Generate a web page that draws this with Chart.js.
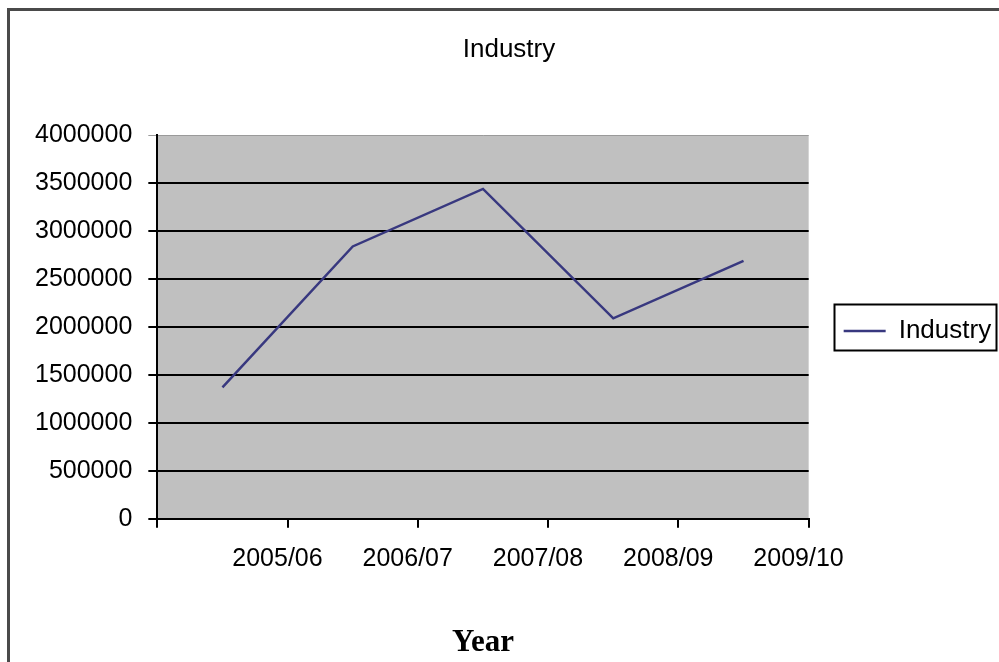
<!DOCTYPE html>
<html><head><meta charset="utf-8">
<script src="https://cdn.jsdelivr.net/npm/chart.js@4/dist/chart.umd.min.js"></script>
<style>html,body{margin:0;padding:0;background:#fff;overflow:hidden}#wrap{width:999px;height:662px;position:relative}</style>
</head><body><div id="wrap"><canvas id="c" width="999" height="662"></canvas></div>
<script>
const categories = ['2005/06', '2006/07', '2007/08', '2008/09', '2009/10'];
const industryValues = [1370000, 2840000, 3440000, 2090000, 2690000];
const yTickValues = [0, 500000, 1000000, 1500000, 2000000, 2500000, 3000000, 3500000, 4000000];
const seriesName = 'Industry';
const chartTitle = 'Industry';
const xAxisTitle = 'Year';

const SANS = "'Liberation Sans Narrow','Arial Narrow','Liberation Sans',Arial,sans-serif";
const SERIF = "'Liberation Serif','Times New Roman',serif";

const backdrop = {
  id: 'backdrop',
  beforeDraw(chart) {
    const {ctx, chartArea: a} = chart;
    ctx.save();
    ctx.fillStyle = '#ffffff';
    ctx.fillRect(0, 0, chart.width, chart.height);
    ctx.strokeStyle = '#4a4a4a';
    ctx.lineWidth = 3;
    ctx.beginPath();
    ctx.moveTo(8.5, chart.height);
    ctx.lineTo(8.5, 9.5);
    ctx.lineTo(chart.width, 9.5);
    ctx.stroke();
    ctx.fillStyle = '#c0c0c0';
    ctx.fillRect(a.left, a.top, a.right - a.left, a.bottom - a.top);
    ctx.restore();
  }
};

const legendFrame = {
  id: 'legendFrame',
  afterDraw(chart) {
    const lg = chart.legend;
    if (!lg || !lg.legendHitBoxes || !lg.legendHitBoxes.length) return;
    const hb = lg.legendHitBoxes;
    let l = Infinity, t = Infinity, r = -Infinity, b = -Infinity;
    hb.forEach(h => { l = Math.min(l, h.left); t = Math.min(t, h.top); r = Math.max(r, h.left + h.width); b = Math.max(b, h.top + h.height); });
    const ctx = chart.ctx;
    ctx.save();
    ctx.strokeStyle = '#000';
    ctx.lineWidth = 2;
    ctx.strokeRect(Math.round(l - 10) + 0.5, Math.round(t - 14) + 0.5, Math.round(r - l + 15), Math.round(b - t + 20));
    ctx.restore();
  }
};

new Chart(document.getElementById('c'), {
  type: 'line',
  data: {
    labels: categories,
    datasets: [{
      label: seriesName,
      data: industryValues,
      borderColor: '#38387f',
      backgroundColor: '#38387f',
      borderWidth: 2.5,
      pointRadius: 0,
      pointHoverRadius: 0,
      tension: 0,
      fill: false,
      yAxisID: 'y'
    }]
  },
  options: {
    responsive: false,
    animation: false,
    devicePixelRatio: 1,
    layout: { padding: { left: 19, right: 0, top: 0, bottom: 0 } },
    plugins: {
      title: {
        display: true,
        text: chartTitle,
        color: '#000',
        font: { family: SANS, size: 26, weight: 'normal' },
        padding: { top: 34, bottom: 70 }
      },
      legend: {
        position: 'right',
        labels: {
          usePointStyle: true,
          pointStyle: 'line',
          pointStyleWidth: 42,
          color: '#000',
          font: { family: SANS, size: 26 },
          padding: 8
        }
      },
      tooltip: { enabled: false }
    },
    scales: {
      x: {
        type: 'category',
        offset: true,
        grid: { offset: true, drawOnChartArea: false, drawTicks: true, tickLength: 9, color: '#000', lineWidth: 2 },
        border: { display: true, color: '#000', width: 2 },
        ticks: { color: '#000', font: { family: SANS, size: 25 }, padding: 16, maxRotation: 0, autoSkip: false, labelOffset: 55 },
        title: { display: true, text: xAxisTitle, color: '#000', font: { family: SERIF, size: 31, weight: 'bold' }, padding: { top: 35, bottom: 0 } }
      },
      y: {
        min: 0,
        max: 4000000,
        afterBuildTicks(scale) { scale.ticks = yTickValues.map(v => ({ value: v })); },
        grid: {
          color: c => (c.tick && c.tick.value === 4000000) ? '#9a9a9a' : '#000',
          lineWidth: c => (c.tick && c.tick.value === 4000000) ? 1 : 2,
          tickLength: 9
        },
        border: { display: true, color: '#000', width: 2 },
        ticks: { color: '#000', font: { family: SANS, size: 25 }, padding: 16, callback: v => String(v) }
      },
      gap: {
        type: 'linear',
        position: 'right',
        min: 0,
        max: 1,
        display: true,
        grid: { display: false, drawTicks: false },
        border: { display: false },
        ticks: { display: false },
        afterFit(scale) { scale.width = 27; }
      }
    }
  },
  plugins: [backdrop, legendFrame]
});
</script>
</body></html>
